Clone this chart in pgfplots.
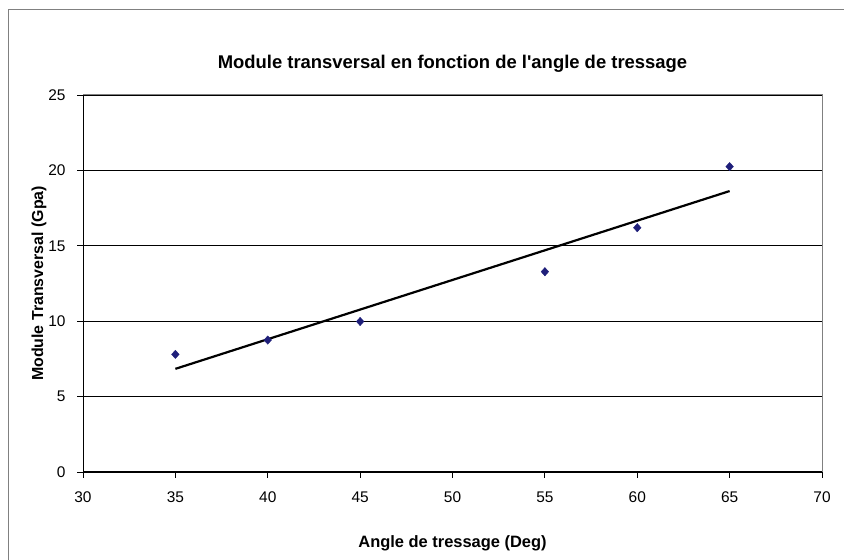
\documentclass[border=0pt]{standalone}
\usepackage{pgfplots}
\pgfplotsset{compat=1.18}
\usepackage{fontspec}
\setmainfont{Liberation Sans}[Ligatures=TeXOff]
\definecolor{navy}{RGB}{31,31,122}
\definecolor{framegray}{RGB}{128,128,128}

\begin{document}
\begin{tikzpicture}[x=1bp,y=1bp]
\useasboundingbox (0,0) rectangle (844,560);
% outer chart frame
\draw[framegray, line width=1bp] (8.5,0) -- (8.5,550.5) -- (844,550.5);
\begin{axis}[
    at={(83bp,88bp)}, anchor=south west,
    scale only axis,
    width=739bp, height=377bp,
    xmin=30, xmax=70, ymin=0, ymax=25,
    xtick={30,35,...,70}, ytick={0,5,...,25},
    axis line style={draw=none},
    ymajorgrids, grid style={black, line width=0.8bp},
    tick style={black, line width=0.8bp},
    tick align=outside, major tick length=6bp,
    xtick pos=bottom, ytick pos=left,
    /pgf/number format/assume math mode=true,
    ticklabel style={font=\fontsize{15.5}{17}\selectfont},
    xticklabel style={yshift=-10bp},
    yticklabel style={xshift=-8bp},
    title={\textbf{Module transversal en fonction de l'angle de tressage}},
    title style={font=\fontsize{18.5}{21}\selectfont, at={(axis description cs:0.5,1)}, anchor=base, yshift=20.5bp},
    xlabel={\textbf{Angle de tressage (Deg)}},
    xlabel style={font=\fontsize{16.5}{18}\selectfont, at={(axis description cs:0.5,0)}, anchor=base, yshift=-76bp},
    ylabel={\textbf{Module Transversal (Gpa)}},
    ylabel style={font=\fontsize{16}{18}\selectfont, at={(axis description cs:-0.0541,0.5)}, anchor=base},
    clip=false,
  ]
  % plot area border and axes
  \draw[framegray, line width=1bp] (axis cs:30,25) -- (axis cs:70,25) -- (axis cs:70,0);
  \draw[black, line width=1bp] (axis cs:30,25) -- (axis cs:30,0) -- (axis cs:70,0);
  % measured values
  \addplot[only marks, mark=diamond*, mark size=4.2bp, mark options={xscale=1.2}, color=navy]
    coordinates {(35,7.8) (40,8.75) (45,9.98) (55,13.28) (60,16.2) (65,20.25)};
  % linear trend
  \addplot[black, line width=2.2bp]
    coordinates {(35,6.84) (65,18.63)};
\end{axis}
\end{tikzpicture}
\end{document}
